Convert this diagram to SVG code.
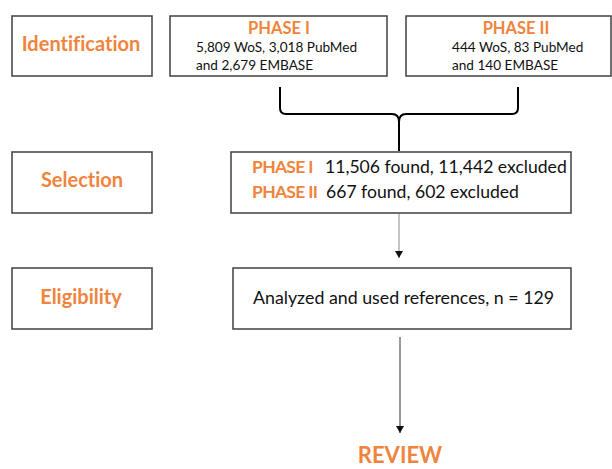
<svg xmlns="http://www.w3.org/2000/svg" width="612" height="469" viewBox="0 0 612 469">
<style>
text{font-variant-ligatures:none;font-family:Lato,"Open Sans",sans-serif}
.box{fill:#fff;stroke:#404040;stroke-width:1.5}
.lbl{font-weight:bold;fill:#F0843C;font-size:20px;text-anchor:middle}
.ph{font-weight:bold;fill:#F0843C}
.ph2{font-weight:bold;fill:#F0843C;font-size:17.5px;letter-spacing:-0.7px}
.txt{fill:#111}
.conn{fill:none}
</style>
<defs>
<marker id="ah" markerWidth="7" markerHeight="8" refX="7" refY="4" orient="auto" markerUnits="userSpaceOnUse">
<path d="M0,0 L7,4 L0,8 Z" fill="#111"/>
</marker>
</defs>
<rect width="612" height="469" fill="#fff"/>
<g id="identification">
<rect class="box" x="12" y="16" width="140" height="60"/>
<text class="lbl" x="81" y="51">Identification</text>
</g>
<g id="phase1-sources">
<rect class="box" x="170" y="16" width="217" height="60"/>
<text class="ph" x="279" y="34" font-size="16.5" text-anchor="middle">PHASE I</text>
<text class="txt" x="196" y="52" font-size="13.6">5,809 WoS, 3,018 PubMed</text>
<text class="txt" x="196" y="70" font-size="13.6">and 2,679 EMBASE</text>
</g>
<g id="phase2-sources">
<rect class="box" x="406" y="16" width="205" height="60"/>
<text class="ph" x="516" y="34" font-size="16.5" text-anchor="middle">PHASE II</text>
<text class="txt" x="452" y="52" font-size="13.6">444 WoS, 83 PubMed</text>
<text class="txt" x="452" y="70" font-size="13.6">and 140 EMBASE</text>
</g>
<g id="selection">
<rect class="box" x="12" y="152" width="140" height="61"/>
<text class="lbl" x="82" y="187">Selection</text>
</g>
<g id="selection-detail">
<rect class="box" x="231" y="152" width="340" height="61"/>
<text class="ph2" x="252" y="173">PHASE I</text>
<text class="txt" x="325" y="173" font-size="17.6">11,506 found, 11,442 excluded</text>
<text class="ph2" x="252" y="198">PHASE II</text>
<text class="txt" x="326" y="198" font-size="17.6">667 found, 602 excluded</text>
</g>
<g id="eligibility">
<rect class="box" x="12" y="268" width="140" height="61"/>
<text class="lbl" x="81" y="304">Eligibility</text>
</g>
<g id="eligibility-detail">
<rect class="box" x="233" y="268" width="338" height="61"/>
<text class="txt" x="253" y="304" font-size="17.8">Analyzed and used references, n = 129</text>
</g>
<g id="review">
<text class="lbl" x="400" y="463" style="font-size:22px">REVIEW</text>
</g>
<g id="connectors" class="conn">
<path d="M280,87 L280,108 Q280,114 286,114 L392,114 Q399,114 399,122 L399,151 M399,122 Q399,114 406,114 L512,114 Q518,114 518,108 L518,87" stroke="#000" stroke-width="2"/>
<line x1="399" y1="214" x2="399" y2="258" stroke="#888" stroke-width="1" marker-end="url(#ah)"/>
<line x1="400" y1="337" x2="400" y2="433" stroke="#333" stroke-width="1" marker-end="url(#ah)"/>
</g>
</svg>
